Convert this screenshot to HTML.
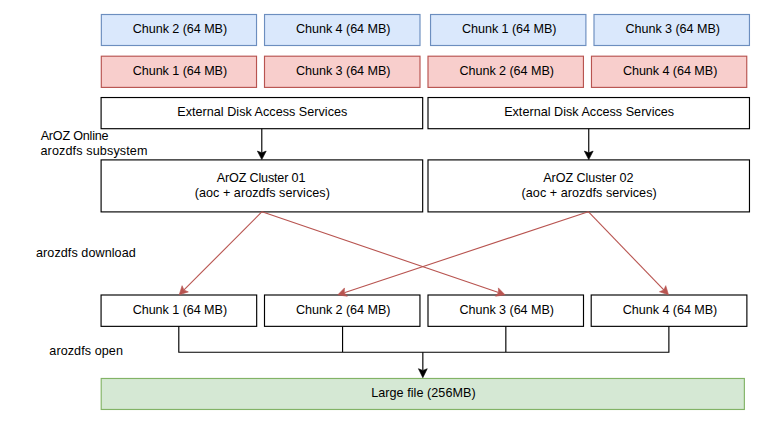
<!DOCTYPE html>
<html><head><meta charset="utf-8"><style>
html,body{margin:0;padding:0;background:#fff;width:772px;height:430px;overflow:hidden}
svg{display:block}
text{font-family:"Liberation Sans",sans-serif;font-size:12.6px;fill:#000}
</style></head><body>
<svg width="772" height="430" viewBox="0 0 772 430">
<rect x="101.35" y="14.5" width="155.18" height="31.00" fill="#dae8fc" stroke="#6c8ebf" stroke-width="1.15"/>
<text x="179.94" y="33.0" text-anchor="middle" textLength="94.44" lengthAdjust="spacing">Chunk 2 (64 MB)</text>
<rect x="264.53" y="14.5" width="155.47" height="31.00" fill="#dae8fc" stroke="#6c8ebf" stroke-width="1.15"/>
<text x="343.26" y="33.0" text-anchor="middle" textLength="94.44" lengthAdjust="spacing">Chunk 4 (64 MB)</text>
<rect x="430.54" y="14.5" width="155.36" height="31.00" fill="#dae8fc" stroke="#6c8ebf" stroke-width="1.15"/>
<text x="509.22" y="33.0" text-anchor="middle" textLength="94.44" lengthAdjust="spacing">Chunk 1 (64 MB)</text>
<rect x="594.0" y="14.5" width="155.46" height="31.00" fill="#dae8fc" stroke="#6c8ebf" stroke-width="1.15"/>
<text x="672.73" y="33.0" text-anchor="middle" textLength="94.44" lengthAdjust="spacing">Chunk 3 (64 MB)</text>
<rect x="101.3" y="56.2" width="155.23" height="31.20" fill="#f8cecc" stroke="#b85450" stroke-width="1.15"/>
<text x="179.91" y="74.80000000000001" text-anchor="middle" textLength="94.44" lengthAdjust="spacing">Chunk 1 (64 MB)</text>
<rect x="264.5" y="56.2" width="155.50" height="31.20" fill="#f8cecc" stroke="#b85450" stroke-width="1.15"/>
<text x="343.25" y="74.80000000000001" text-anchor="middle" textLength="94.44" lengthAdjust="spacing">Chunk 3 (64 MB)</text>
<rect x="428" y="56.2" width="155.44" height="31.20" fill="#f8cecc" stroke="#b85450" stroke-width="1.15"/>
<text x="506.72" y="74.80000000000001" text-anchor="middle" textLength="94.44" lengthAdjust="spacing">Chunk 2 (64 MB)</text>
<rect x="591.47" y="56.2" width="155.28" height="31.20" fill="#f8cecc" stroke="#b85450" stroke-width="1.15"/>
<text x="670.11" y="74.80000000000001" text-anchor="middle" textLength="94.44" lengthAdjust="spacing">Chunk 4 (64 MB)</text>
<rect x="101.1" y="97.53" width="321.58" height="31.17" fill="#ffffff" stroke="#000000" stroke-width="1.15"/>
<text x="262.29" y="116.115" text-anchor="middle" textLength="170.00" lengthAdjust="spacing">External Disk Access Services</text>
<rect x="428" y="97.53" width="321.47" height="31.17" fill="#ffffff" stroke="#000000" stroke-width="1.15"/>
<text x="589.13" y="116.115" text-anchor="middle" textLength="170.00" lengthAdjust="spacing">External Disk Access Services</text>
<rect x="101.1" y="159.9" width="321.58" height="52.00" fill="#ffffff" stroke="#000000" stroke-width="1.15"/>
<text x="261.09" y="181.5" text-anchor="middle" textLength="88.63" lengthAdjust="spacing">ArOZ Cluster 01</text>
<text x="262.26" y="196.6" text-anchor="middle" textLength="135.15" lengthAdjust="spacing">(aoc + arozdfs services)</text>
<rect x="428" y="159.9" width="321.47" height="52.00" fill="#ffffff" stroke="#000000" stroke-width="1.15"/>
<text x="588.34" y="181.5" text-anchor="middle" textLength="90.23" lengthAdjust="spacing">ArOZ Cluster 02</text>
<text x="589.11" y="196.6" text-anchor="middle" textLength="135.15" lengthAdjust="spacing">(aoc + arozdfs services)</text>
<rect x="101.07" y="295.0" width="155.61" height="31.35" fill="#ffffff" stroke="#000000" stroke-width="1.15"/>
<text x="179.88" y="313.675" text-anchor="middle" textLength="94.44" lengthAdjust="spacing">Chunk 1 (64 MB)</text>
<rect x="264.5" y="295.0" width="155.46" height="31.35" fill="#ffffff" stroke="#000000" stroke-width="1.15"/>
<text x="343.23" y="313.675" text-anchor="middle" textLength="94.44" lengthAdjust="spacing">Chunk 2 (64 MB)</text>
<rect x="428" y="295.0" width="155.50" height="31.35" fill="#ffffff" stroke="#000000" stroke-width="1.15"/>
<text x="506.75" y="313.675" text-anchor="middle" textLength="94.44" lengthAdjust="spacing">Chunk 3 (64 MB)</text>
<rect x="591.2" y="295.0" width="155.68" height="31.35" fill="#ffffff" stroke="#000000" stroke-width="1.15"/>
<text x="670.04" y="313.675" text-anchor="middle" textLength="94.44" lengthAdjust="spacing">Chunk 4 (64 MB)</text>
<rect x="101.2" y="378.47" width="643.16" height="31.00" fill="#d5e8d4" stroke="#82b366" stroke-width="1.15"/>
<text x="423.40" y="397" text-anchor="middle" textLength="104.45" lengthAdjust="spacing">Large file (256MB)</text>
<line x1="261.79" y1="128.7" x2="261.79" y2="152.80" stroke="#000000" stroke-width="1.15"/><path d="M261.79,159.60 L257.39,151.10 L261.79,152.80 L266.19,151.10 Z" fill="#000000" stroke="#000000" stroke-width="0.6"/>
<line x1="588.75" y1="128.7" x2="588.75" y2="152.80" stroke="#000000" stroke-width="1.15"/><path d="M588.75,159.60 L584.35,151.10 L588.75,152.80 L593.15,151.10 Z" fill="#000000" stroke="#000000" stroke-width="0.6"/>
<line x1="262" y1="211.7" x2="184.00" y2="289.98" stroke="#b85450" stroke-width="1.1"/><path d="M179.20,294.80 L182.08,285.67 L184.00,289.98 L188.32,291.88 Z" fill="#b85450" stroke="#b85450" stroke-width="0.6"/>
<line x1="262" y1="211.7" x2="498.57" y2="292.60" stroke="#b85450" stroke-width="1.1"/><path d="M505.00,294.80 L495.53,296.21 L498.57,292.60 L498.38,287.89 Z" fill="#b85450" stroke="#b85450" stroke-width="0.6"/>
<line x1="588.3" y1="211.7" x2="344.25" y2="292.66" stroke="#b85450" stroke-width="1.1"/><path d="M337.80,294.80 L344.48,287.95 L344.25,292.66 L347.25,296.30 Z" fill="#b85450" stroke="#b85450" stroke-width="0.6"/>
<line x1="588.3" y1="211.7" x2="663.78" y2="289.91" stroke="#b85450" stroke-width="1.1"/><path d="M668.50,294.80 L659.43,291.74 L663.78,289.91 L665.76,285.63 Z" fill="#b85450" stroke="#b85450" stroke-width="0.6"/>
<path d="M178.8,326.35 V352.23 H668.88 V326.35 M342.57,326.35 V352.23 M505.84,326.35 V352.23" fill="none" stroke="#000000" stroke-width="1.15"/>
<line x1="422.84" y1="352.23" x2="422.84" y2="370.50" stroke="#000000" stroke-width="1.15"/><path d="M422.84,377.70 L418.44,368.70 L422.84,370.50 L427.24,368.70 Z" fill="#000000" stroke="#000000" stroke-width="0.6"/>
<text x="40.66" y="139.8" text-anchor="start" textLength="67.92" lengthAdjust="spacing">ArOZ Online</text>
<text x="40.46" y="155" text-anchor="start" textLength="107.04" lengthAdjust="spacing">arozdfs subsystem</text>
<text x="36.00" y="256.8" text-anchor="start" textLength="99.76" lengthAdjust="spacing">arozdfs download</text>
<text x="49.30" y="355.4" text-anchor="start" textLength="73.60" lengthAdjust="spacing">arozdfs open</text>
</svg>
</body></html>
